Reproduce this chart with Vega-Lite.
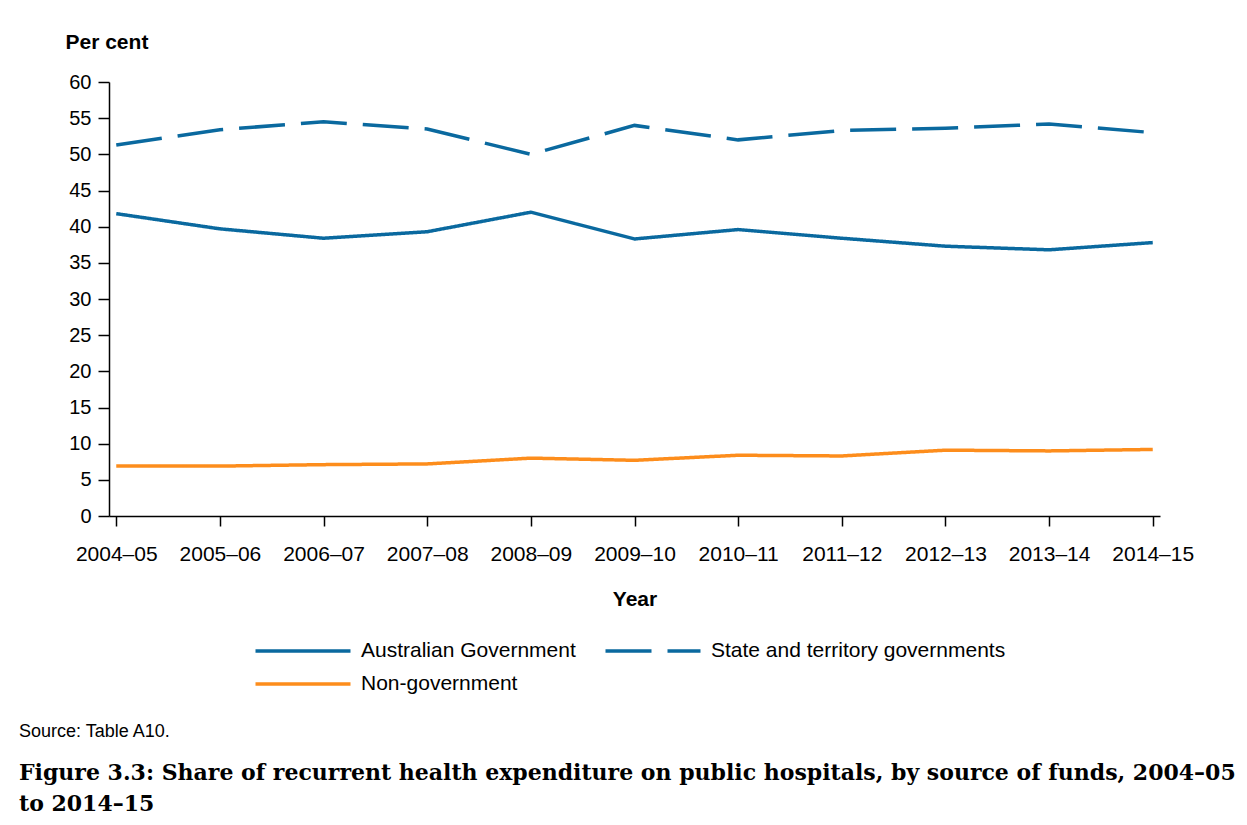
{
  "$schema": "https://vega.github.io/schema/vega-lite/v6.json",
  "width": 1051,
  "height": 434,
  "autosize": {"type": "none"},
  "padding": {"left": 109, "top": 82, "right": 87, "bottom": 309},
  "background": "white",
  "title": {
    "text": "Source: Table A10.",
    "subtitle": ["Figure 3.3: Share of recurrent health expenditure on public hospitals, by source of funds, 2004–05", "to 2014–15"],
    "orient": "bottom",
    "anchor": "start",
    "frame": "group",
    "dx": -90,
    "offset": 29,
    "font": "Liberation Sans",
    "fontSize": 18,
    "fontWeight": "normal",
    "color": "black",
    "subtitleFont": "DejaVu Serif",
    "subtitleFontSize": 22,
    "subtitleFontWeight": "bold",
    "subtitleColor": "black",
    "subtitleLineHeight": 31,
    "subtitlePadding": 22
  },
  "data": {
    "values": [
      {"year": "2004–05", "source": "Australian Government", "value": 41.8},
      {"year": "2005–06", "source": "Australian Government", "value": 39.7},
      {"year": "2006–07", "source": "Australian Government", "value": 38.4},
      {"year": "2007–08", "source": "Australian Government", "value": 39.3},
      {"year": "2008–09", "source": "Australian Government", "value": 42.0},
      {"year": "2009–10", "source": "Australian Government", "value": 38.3},
      {"year": "2010–11", "source": "Australian Government", "value": 39.6},
      {"year": "2011–12", "source": "Australian Government", "value": 38.4},
      {"year": "2012–13", "source": "Australian Government", "value": 37.3},
      {"year": "2013–14", "source": "Australian Government", "value": 36.8},
      {"year": "2014–15", "source": "Australian Government", "value": 37.8},
      {"year": "2004–05", "source": "State and territory governments", "value": 51.3},
      {"year": "2005–06", "source": "State and territory governments", "value": 53.4},
      {"year": "2006–07", "source": "State and territory governments", "value": 54.5},
      {"year": "2007–08", "source": "State and territory governments", "value": 53.5},
      {"year": "2008–09", "source": "State and territory governments", "value": 50.0},
      {"year": "2009–10", "source": "State and territory governments", "value": 54.0},
      {"year": "2010–11", "source": "State and territory governments", "value": 52.0},
      {"year": "2011–12", "source": "State and territory governments", "value": 53.3},
      {"year": "2012–13", "source": "State and territory governments", "value": 53.6},
      {"year": "2013–14", "source": "State and territory governments", "value": 54.2},
      {"year": "2014–15", "source": "State and territory governments", "value": 53.0},
      {"year": "2004–05", "source": "Non-government", "value": 6.9},
      {"year": "2005–06", "source": "Non-government", "value": 6.9},
      {"year": "2006–07", "source": "Non-government", "value": 7.1},
      {"year": "2007–08", "source": "Non-government", "value": 7.2},
      {"year": "2008–09", "source": "Non-government", "value": 8.0},
      {"year": "2009–10", "source": "Non-government", "value": 7.7},
      {"year": "2010–11", "source": "Non-government", "value": 8.4},
      {"year": "2011–12", "source": "Non-government", "value": 8.3},
      {"year": "2012–13", "source": "Non-government", "value": 9.1},
      {"year": "2013–14", "source": "Non-government", "value": 9.0},
      {"year": "2014–15", "source": "Non-government", "value": 9.2}
    ]
  },
  "mark": {"type": "line", "strokeWidth": 3.5, "strokeCap": "butt"},
  "encoding": {
    "x": {
      "field": "year",
      "type": "ordinal",
      "scale": {"type": "point", "padding": 0.07},
      "axis": {
        "title": "Year",
        "labelAngle": 0,
        "labelFontSize": 21,
        "labelColor": "black",
        "labelPadding": 17,
        "tickSize": 10,
        "tickColor": "black",
        "tickWidth": 1.5,
        "domainColor": "black",
        "domainWidth": 1.5,
        "titleFontSize": 21,
        "titleFontWeight": "bold",
        "titleColor": "black",
        "titlePadding": 24,
        "grid": false
      }
    },
    "y": {
      "field": "value",
      "type": "quantitative",
      "scale": {"domain": [0, 60], "nice": false},
      "axis": {
        "title": "Per cent",
        "titleAngle": 0,
        "titleAlign": "left",
        "titleBaseline": "middle",
        "titleX": -44,
        "titleY": -40,
        "titleFontSize": 21,
        "titleFontWeight": "bold",
        "titleColor": "black",
        "values": [0, 5, 10, 15, 20, 25, 30, 35, 40, 45, 50, 55, 60],
        "labelFontSize": 20,
        "labelColor": "black",
        "labelPadding": 7,
        "tickSize": 11,
        "tickColor": "black",
        "tickWidth": 1.5,
        "domainColor": "black",
        "domainWidth": 1.5,
        "grid": false
      }
    },
    "color": {
      "field": "source",
      "type": "nominal",
      "scale": {
        "domain": ["Australian Government", "State and territory governments", "Non-government"],
        "range": ["#0a699f", "#0a699f", "#fd8d1c"]
      },
      "legend": {
        "title": null,
        "orient": "none",
        "legendX": 180,
        "legendY": 555,
        "direction": "horizontal",
        "columns": 2,
        "symbolType": "M-4,0H4",
        "symbolSize": 564,
        "symbolStrokeWidth": 3.5,
        "labelFontSize": 21,
        "labelColor": "black",
        "labelOffset": 44,
        "labelLimit": 500,
        "columnPadding": 22,
        "rowPadding": 9
      }
    },
    "strokeDash": {
      "field": "source",
      "type": "nominal",
      "scale": {
        "domain": ["Australian Government", "State and territory governments", "Non-government"],
        "range": [[1, 0], [46, 16], [1, 0]]
      },
      "legend": {
        "title": null,
        "orient": "none",
        "legendX": 180,
        "legendY": 555,
        "direction": "horizontal",
        "columns": 2,
        "symbolType": "M-4,0H4",
        "symbolSize": 564,
        "symbolStrokeWidth": 3.5,
        "labelFontSize": 21,
        "labelColor": "black",
        "labelOffset": 44,
        "labelLimit": 500,
        "columnPadding": 22,
        "rowPadding": 9
      }
    }
  },
  "config": {
    "font": "Liberation Sans",
    "view": {"stroke": null}
  }
}
